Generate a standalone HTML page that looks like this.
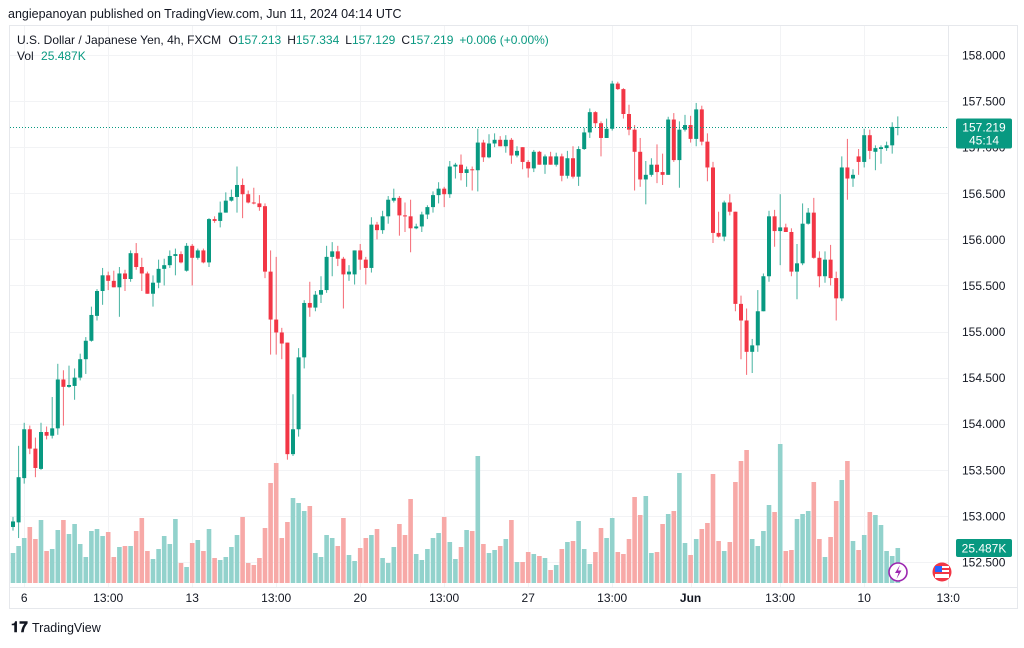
<!DOCTYPE html>
<html><head><meta charset="utf-8"><style>
html,body{margin:0;padding:0;background:#fff;}
body{width:1024px;height:643px;overflow:hidden;font-family:"Liberation Sans",sans-serif;}
svg text{font-family:"Liberation Sans",sans-serif;}
</style></head><body>
<svg id="chart" width="1024" height="643" viewBox="0 0 1024 643" xmlns="http://www.w3.org/2000/svg">
<text x="8" y="18" font-size="12.5" fill="#131722">angiepanoyan published on TradingView.com, Jun 11, 2024 04:14 UTC</text>
<rect x="9.5" y="25.5" width="1008" height="583" fill="none" stroke="#e6e8ec"/>
<g id="grid"></g>
<g id="vols"></g>
<g id="candles"></g>
<line x1="948.5" y1="26" x2="948.5" y2="587" stroke="#e6e8ec"/>
<line x1="10" y1="587.5" x2="1017" y2="587.5" stroke="#e6e8ec"/>
<g id="yaxis"></g>
<g id="xaxis"></g>
<text x="17" y="44" font-size="12" fill="#131722">U.S. Dollar / Japanese Yen, 4h, FXCM <tspan dx="4">O</tspan><tspan fill="#089981">157.213</tspan><tspan dx="6">H</tspan><tspan fill="#089981">157.334</tspan><tspan dx="6">L</tspan><tspan fill="#089981">157.129</tspan><tspan dx="6">C</tspan><tspan fill="#089981">157.219</tspan><tspan dx="6" fill="#089981">+0.006 (+0.00%)</tspan></text>
<text x="17" y="60" font-size="12" fill="#131722">Vol <tspan dx="4" fill="#089981">25.487K</tspan></text>
<g id="lastprice"></g>
<g><rect x="956" y="539" width="56" height="18" rx="2" fill="#089981"/><text x="984" y="552.5" font-size="12" fill="#fff" text-anchor="middle">25.487K</text></g>
<g><circle cx="898" cy="572" r="9" fill="#fff" stroke="#9c27b0" stroke-width="1.6"/><path d="M900 565 L895 573 L898.5 573 L896.5 579 L901.5 570.5 L898 570.5 Z" fill="#9c27b0"/></g>
<g><circle cx="942" cy="572" r="9.5" fill="#f23645"/><rect x="935" y="566" width="14" height="12" fill="#fff"/><rect x="935" y="568" width="14" height="2" fill="#f23645"/><rect x="935" y="572" width="14" height="2" fill="#f23645"/><rect x="935" y="566" width="7" height="6" fill="#2962ff"/></g>
<g><text x="11" y="632" font-size="15" font-weight="bold" fill="#131722">𝟏𝟕</text><text x="32" y="632" font-size="12.5" fill="#131722">TradingView</text></g>
</svg>
<script>
const opens=[152.88,152.93,153.41,153.94,153.73,153.51,153.91,153.87,153.95,154.48,154.40,154.41,154.50,154.70,154.90,155.17,155.44,155.61,155.55,155.48,155.63,155.57,155.85,155.70,155.63,155.41,155.53,155.68,155.72,155.82,155.84,155.66,155.93,155.80,155.88,155.75,156.22,156.20,156.29,156.42,156.46,
156.59,156.49,156.40,156.39,156.36,155.65,155.13,154.99,154.88,153.67,153.94,154.72,155.31,155.26,155.40,155.45,155.81,155.87,155.79,155.62,155.62,155.88,155.78,155.69,156.16,156.10,156.25,156.42,156.45,156.26,156.25,156.12,156.14,156.27,156.35,156.48,156.55,156.49,156.79,156.81,156.72,
156.76,156.75,157.05,156.89,157.04,157.08,157.01,157.08,156.91,157.00,156.84,156.77,156.95,156.81,156.90,156.81,156.90,156.69,156.88,156.68,156.98,157.16,157.38,157.26,157.10,157.20,157.69,157.63,157.36,157.19,156.95,156.65,156.70,156.81,156.73,156.70,157.30,156.86,157.19,157.24,157.09,
157.41,157.06,156.78,156.07,156.03,156.40,156.30,155.30,155.12,154.78,154.85,155.22,155.60,156.25,156.09,156.13,156.08,155.65,155.74,156.17,156.29,155.80,155.60,155.78,155.58,155.36,156.78,156.66,156.90,156.84,157.13,156.95,156.98,156.99,157.02,157.213];
const highs=[152.99,153.76,154.01,153.98,153.85,154.01,153.97,154.29,154.65,154.58,154.63,154.60,154.76,154.94,155.27,155.46,155.69,155.65,155.66,155.70,155.67,155.88,155.96,155.80,155.65,155.61,155.78,155.79,155.88,155.90,155.87,155.96,155.95,155.90,155.90,156.23,156.25,156.41,156.51,156.54,156.79,
156.66,156.53,156.56,156.48,156.39,155.88,155.81,155.04,154.88,154.32,154.82,155.34,155.54,155.44,155.60,155.93,155.97,155.93,155.81,155.72,155.88,155.95,155.81,156.24,156.19,156.31,156.47,156.55,156.47,156.40,156.43,156.17,156.30,156.37,156.52,156.62,156.57,156.85,156.83,156.92,156.79,
156.79,157.20,157.08,157.14,157.15,157.12,157.13,157.10,157.01,157.00,156.86,156.97,156.96,156.92,156.95,156.94,156.93,156.96,157.01,157.01,157.21,157.42,157.39,157.28,157.31,157.72,157.71,157.64,157.46,157.24,157.10,156.85,156.88,157.03,156.93,157.33,157.37,157.28,157.35,157.34,157.48,
157.45,157.15,156.84,156.30,156.42,156.49,156.30,155.39,155.25,154.92,155.45,155.63,156.31,156.32,156.49,156.17,156.12,155.95,156.39,156.34,156.45,155.87,155.87,155.94,155.65,156.90,157.09,156.76,156.98,157.20,157.19,157.02,157.02,157.06,157.27,157.334];
const lows=[152.84,152.76,153.35,153.67,153.42,153.50,153.83,153.84,153.88,153.98,154.39,154.26,154.47,154.54,154.89,155.12,155.29,155.45,155.48,155.16,155.44,155.54,155.67,155.44,155.41,155.27,155.47,155.50,155.69,155.61,155.74,155.65,155.50,155.78,155.74,155.70,156.18,156.13,156.29,156.41,156.29,
156.23,156.39,156.38,156.31,155.58,154.75,154.75,154.70,153.61,153.65,153.86,154.60,155.16,155.22,155.31,155.42,155.60,155.71,155.25,155.55,155.51,155.67,155.51,155.64,156.00,156.06,156.17,156.40,156.04,156.08,155.86,156.11,156.08,156.22,156.29,156.39,156.35,156.45,156.66,156.64,156.57,
156.53,156.52,156.84,156.88,157.00,157.01,156.94,156.82,156.89,156.76,156.67,156.73,156.81,156.71,156.81,156.79,156.63,156.66,156.66,156.58,156.97,157.10,157.21,156.90,157.10,157.18,157.62,157.31,157.13,156.53,156.57,156.38,156.68,156.61,156.59,156.70,156.84,156.56,157.17,157.05,157.01,
157.02,156.63,155.96,156.02,155.98,156.26,155.22,154.70,154.53,154.55,154.78,155.22,155.54,155.92,155.72,156.08,155.60,155.35,155.72,156.16,155.79,155.48,155.53,155.50,155.12,155.33,156.43,156.57,156.70,156.78,156.87,156.75,156.82,156.96,156.93,157.129];
const closes=[152.94,153.42,153.94,153.73,153.52,153.91,153.87,153.95,154.48,154.40,154.42,154.50,154.70,154.90,155.18,155.44,155.61,155.55,155.48,155.63,155.57,155.85,155.70,155.63,155.41,155.53,155.68,155.72,155.82,155.84,155.75,155.93,155.80,155.88,155.75,156.22,156.20,156.29,156.42,156.46,156.59,
156.49,156.40,156.39,156.35,155.65,155.13,154.99,154.87,153.67,153.94,154.72,155.31,155.26,155.40,155.45,155.81,155.87,155.79,155.62,155.65,155.88,155.78,155.69,156.16,156.10,156.25,156.43,156.45,156.26,156.25,156.12,156.14,156.27,156.35,156.48,156.55,156.49,156.79,156.81,156.72,156.76,
156.75,157.05,156.89,157.04,157.08,157.01,157.08,156.91,156.96,156.84,156.77,156.95,156.81,156.90,156.81,156.90,156.69,156.88,156.68,156.98,157.16,157.38,157.26,157.10,157.20,157.69,157.63,157.36,157.19,156.95,156.65,156.70,156.81,156.73,156.70,157.30,156.86,157.19,157.24,157.09,157.41,
157.06,156.78,156.07,156.03,156.40,156.30,155.30,155.12,154.78,154.85,155.22,155.60,156.25,156.09,156.13,156.08,155.65,155.74,156.17,156.29,155.80,155.60,155.78,155.58,155.36,156.78,156.66,156.70,156.84,157.13,156.96,156.99,157.00,157.02,157.22,157.219];
const volumes=[30,37,45,56,44,63,32,34,53,63,49,59,39,26,52,54,47,51,26,36,37,37,52,65,32,24,34,47,39,64,20,16,40,43,32,54,25,23,26,36,48,
66,20,18,25,55,100,120,45,61,85,80,72,77,30,26,48,45,37,65,28,22,35,45,48,54,25,20,36,59,48,84,29,23,34,45,50,66,41,24,36,53,
52,127,39,30,33,37,44,63,21,21,31,29,27,25,13,18,34,41,42,62,34,19,31,55,45,65,31,29,44,86,68,87,30,31,59,69,72,110,40,28,44,
54,60,109,42,32,41,101,122,133,44,37,52,78,71,139,32,33,64,69,72,101,44,26,46,82,103,122,42,33,48,71,68,58,32,27,35];
const priceTicks=["158.000","157.500","157.000","156.500","156.000","155.500","155.000","154.500","154.000","153.500","153.000","152.500"];
const timeLabels=["6","13:00","13","13:00","20","13:00","27","13:00","Jun","13:00","10","13:0"];
const timeLabelIdx=[2,17,32,47,62,77,92,107,121,137,152,167];
const lastPrice=157.219;

const NS="http://www.w3.org/2000/svg";
const X0=13, STEP=5.6;
function xs(i){return X0+i*STEP;}
function ys(p){return 55+(158-p)*(562-55)/5.5;}
const maxVol=Math.max(...volumes);
function yv(v){return 583-v/maxVol*139;}
function mk(tag,attrs,parent){const e=document.createElementNS(NS,tag);for(const k in attrs)e.setAttribute(k,attrs[k]);parent.appendChild(e);return e;}

const grid=document.getElementById('grid');
priceTicks.forEach(t=>{const y=Math.round(ys(parseFloat(t)))+0.5;
 const l=mk('line',{x1:10,x2:948,y1:y,y2:y,stroke:'#f2f3f5'},grid);
 
 });
timeLabelIdx.forEach(i=>{const x=Math.round(xs(i))+0.5;
 const l=mk('line',{x1:x,x2:x,y1:26,y2:587,stroke:'#f2f3f5'},grid);
 
 });

const yax=document.getElementById('yaxis');
priceTicks.forEach(t=>{const e=mk('text',{x:962,y:ys(parseFloat(t))+4.5,'font-size':12,fill:'#131722'},yax);e.textContent=t;
 
 });
const xax=document.getElementById('xaxis');
timeLabels.forEach((t,k)=>{const e=mk('text',{x:xs(timeLabelIdx[k]),y:602,'font-size':12,fill:'#131722','text-anchor':'middle','font-weight':t==='Jun'?'bold':'normal'},xax);e.textContent=t;
 
 });

const vg=document.getElementById('vols');
volumes.forEach((v,i)=>{const up=closes[i]>=opens[i];const y=yv(v);
 const r=mk('rect',{x:xs(i)-2.3,y:y,width:4.6,height:583-y,fill:up?'#92d2cc':'#f7a9a7'},vg);
 
 });

const cg=document.getElementById('candles');
opens.forEach((o,i)=>{const c=closes[i];const up=c>=o;const col=up?'#089981':'#f23645';const x=xs(i);
 const g=mk('g',{},cg);
 
 
 mk('line',{x1:x,x2:x,y1:ys(highs[i]),y2:ys(lows[i]),stroke:col,'stroke-width':1,opacity:0.75},g);
 const top=ys(Math.max(o,c)),bot=ys(Math.min(o,c));
 mk('rect',{x:x-2,y:top,width:4,height:Math.max(1,bot-top),fill:col},g);});

const lp=document.getElementById('lastprice');
const ly=Math.round(ys(lastPrice))+0.5;
mk('line',{x1:10,x2:948,y1:ly,y2:ly,stroke:'#089981','stroke-dasharray':'1 2'},lp);
mk('rect',{x:956,y:ly-9,width:56,height:30,rx:2,fill:'#089981'},lp);
const t1=mk('text',{x:984,y:ly+4,'font-size':12,fill:'#fff','text-anchor':'middle'},lp);t1.textContent=lastPrice.toFixed(3);
const t2=mk('text',{x:984,y:ly+17,'font-size':12,fill:'#fff','text-anchor':'middle'},lp);t2.textContent='45:14';
</script>
</body></html>
